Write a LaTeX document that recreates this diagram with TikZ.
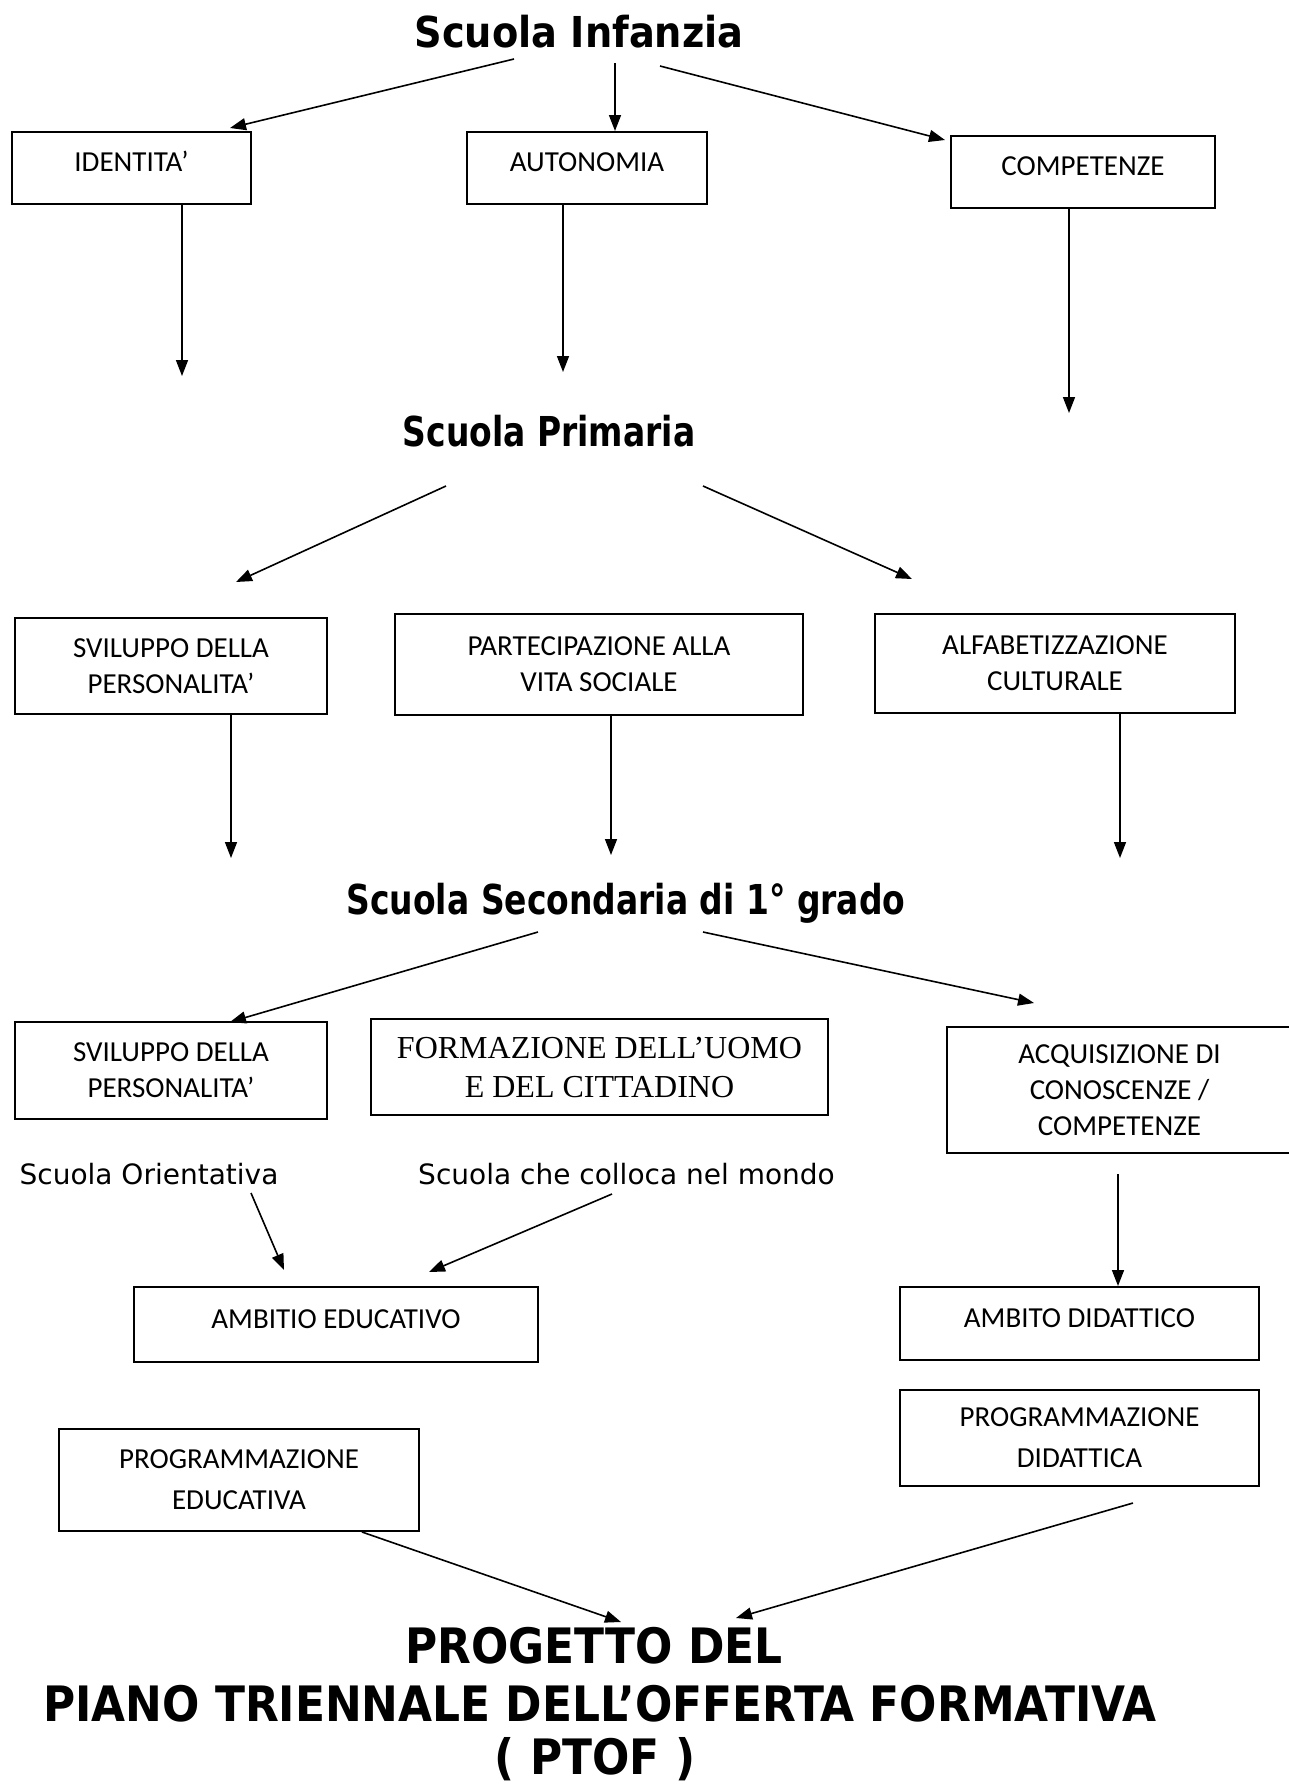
\documentclass[tikz,border=0pt]{standalone}
\usepackage{fontspec}
\setmainfont{Carlito}
\newfontfamily\hfA[FakeStretch=0.8]{DejaVu Sans}
\newfontfamily\hfB[FakeStretch=0.9]{DejaVu Sans}
\newfontfamily\regf{DejaVu Sans}
\newfontfamily\timesf{Liberation Serif}
\usetikzlibrary{arrows.meta}
\begin{document}
\begin{tikzpicture}[x=0.5pt,y=-0.5pt,
  box/.style={draw, line width=1pt, inner sep=0pt, align=center,
    font=\fontsize{14.5}{18}\selectfont},
  onebox/.style={box, text height=9.5pt, text depth=6pt},
  arr/.style={line width=0.8pt, -{Triangle[length=8pt,width=6pt]}},
  headA/.style={inner sep=0pt, anchor=base, font=\hfA\bfseries\fontsize{20.6}{24}\selectfont},
  headB/.style={inner sep=0pt, anchor=base, font=\hfB\bfseries\fontsize{21.3}{24}\selectfont},
  ttl/.style={inner sep=0pt, anchor=base, font=\hfB\bfseries\fontsize{24.4}{28}\selectfont},
  lbl/.style={inner sep=0pt, anchor=base, font=\regf\fontsize{14}{17}\selectfont},
]
\useasboundingbox[fill=white] (0,0) rectangle (1289,1785);

% headings
\node[headB] (inf) at (579,47) {Scuola Infanzia};
\node[headA] (pri) at (549,446) {Scuola Primaria};
\node[headA] (sec) at (626,914) {Scuola Secondaria di 1° grado};

% level 1 boxes
\node[onebox, minimum width=119.5pt, minimum height=36pt] (idn) at (131.5,168) {IDENTITA’};
\node[onebox, minimum width=120pt, minimum height=36pt] (aut) at (587,168) {AUTONOMIA};
\node[onebox, minimum width=132pt, minimum height=36pt] (cmp) at (1083,172) {COMPETENZE};

% level 2 boxes
\node[box, minimum width=156pt, minimum height=48pt] (svi1) at (171,666) {SVILUPPO DELLA\\PERSONALITA’};
\node[box, minimum width=204pt, minimum height=50.5pt] (par) at (599,664.5) {PARTECIPAZIONE ALLA\\VITA SOCIALE};
\node[box, minimum width=180pt, minimum height=49.5pt] (alf) at (1055,663.5) {ALFABETIZZAZIONE\\CULTURALE};

% level 3 boxes
\node[box, minimum width=156pt, minimum height=48.5pt] (svi2) at (171,1070.5) {SVILUPPO DELLA\\PERSONALITA’};
\node[box, minimum width=228.5pt, minimum height=48pt, font=\timesf\fontsize{16}{19.5}\selectfont] (frm) at (599.5,1067) {FORMAZIONE DELL’UOMO\\E DEL CITTADINO};
\node[box, minimum width=172.5pt, minimum height=63pt] (acq) at (1119.5,1090) {ACQUISIZIONE DI\\CONOSCENZE /\\COMPETENZE};

% labels
\node[lbl] (ori) at (149,1184) {Scuola Orientativa};
\node[lbl] (col) at (626.5,1184) {Scuola che colloca nel mondo};

% ambiti
\node[onebox, minimum width=202pt, minimum height=37.5pt] (ambe) at (336,1324.5) {AMBITIO EDUCATIVO};
\node[onebox, minimum width=179.5pt, minimum height=36.5pt] (ambd) at (1079.5,1323.5) {AMBITO DIDATTICO};
\node[box, minimum width=179.5pt, minimum height=48pt, font=\fontsize{14.5}{20.5}\selectfont] (prgd) at (1079.5,1438) {PROGRAMMAZIONE\\DIDATTICA};
\node[box, minimum width=180pt, minimum height=51pt, font=\fontsize{14.5}{20.5}\selectfont] (prge) at (239,1480) {PROGRAMMAZIONE\\EDUCATIVA};

% title
\node[ttl] (tt1) at (594,1663) {PROGETTO DEL};
\node[ttl] (tt2) at (600,1721) {PIANO TRIENNALE DELL’OFFERTA FORMATIVA};
\node[ttl] (tt3) at (595,1774) {( PTOF )};

% coordinates for free ends
\coordinate (a1s) at (514,59);  \coordinate (a1e) at (230,128);
\coordinate (a2s) at (615,63);
\coordinate (a3s) at (660,66);  \coordinate (a3e) at (945,140);
\coordinate (d1e) at (182,376);
\coordinate (d2e) at (563,372);
\coordinate (d3e) at (1069,413);
\coordinate (b1s) at (446,486); \coordinate (b1e) at (236,582);
\coordinate (b2s) at (703,486); \coordinate (b2e) at (912,579);
\coordinate (e1e) at (231,858);
\coordinate (e2e) at (611,855);
\coordinate (e3e) at (1120,858);
\coordinate (c1s) at (538,932); \coordinate (c1e) at (230,1022);
\coordinate (c2s) at (703,932); \coordinate (c2e) at (1034,1003);
\coordinate (o1s) at (251,1193); \coordinate (o1e) at (284,1270);
\coordinate (o2s) at (612,1194); \coordinate (o2e) at (429,1272);
\coordinate (f1s) at (1118,1174);
\coordinate (p1s) at (362,1532); \coordinate (p1e) at (621,1622);
\coordinate (p2s) at (1133,1503); \coordinate (p2e) at (736,1618);

% connectors
\draw[arr] (a1s) -- (a1e);
\draw[arr] (a2s) -- (aut.north -| a2s);
\draw[arr] (a3s) -- (a3e);
\draw[arr] (idn.south -| d1e) -- (d1e);
\draw[arr] (aut.south -| d2e) -- (d2e);
\draw[arr] (cmp.south -| d3e) -- (d3e);
\draw[arr] (b1s) -- (b1e);
\draw[arr] (b2s) -- (b2e);
\draw[arr] (svi1.south -| e1e) -- (e1e);
\draw[arr] (par.south -| e2e) -- (e2e);
\draw[arr] (alf.south -| e3e) -- (e3e);
\draw[arr] (c1s) -- (c1e);
\draw[arr] (c2s) -- (c2e);
\draw[arr] (o1s) -- (o1e);
\draw[arr] (o2s) -- (o2e);
\draw[arr] (f1s) -- (ambd.north -| f1s);
\draw[arr] (prge.south -| p1s) -- (p1e);
\draw[arr] (p2s) -- (p2e);
\end{tikzpicture}
\end{document}
